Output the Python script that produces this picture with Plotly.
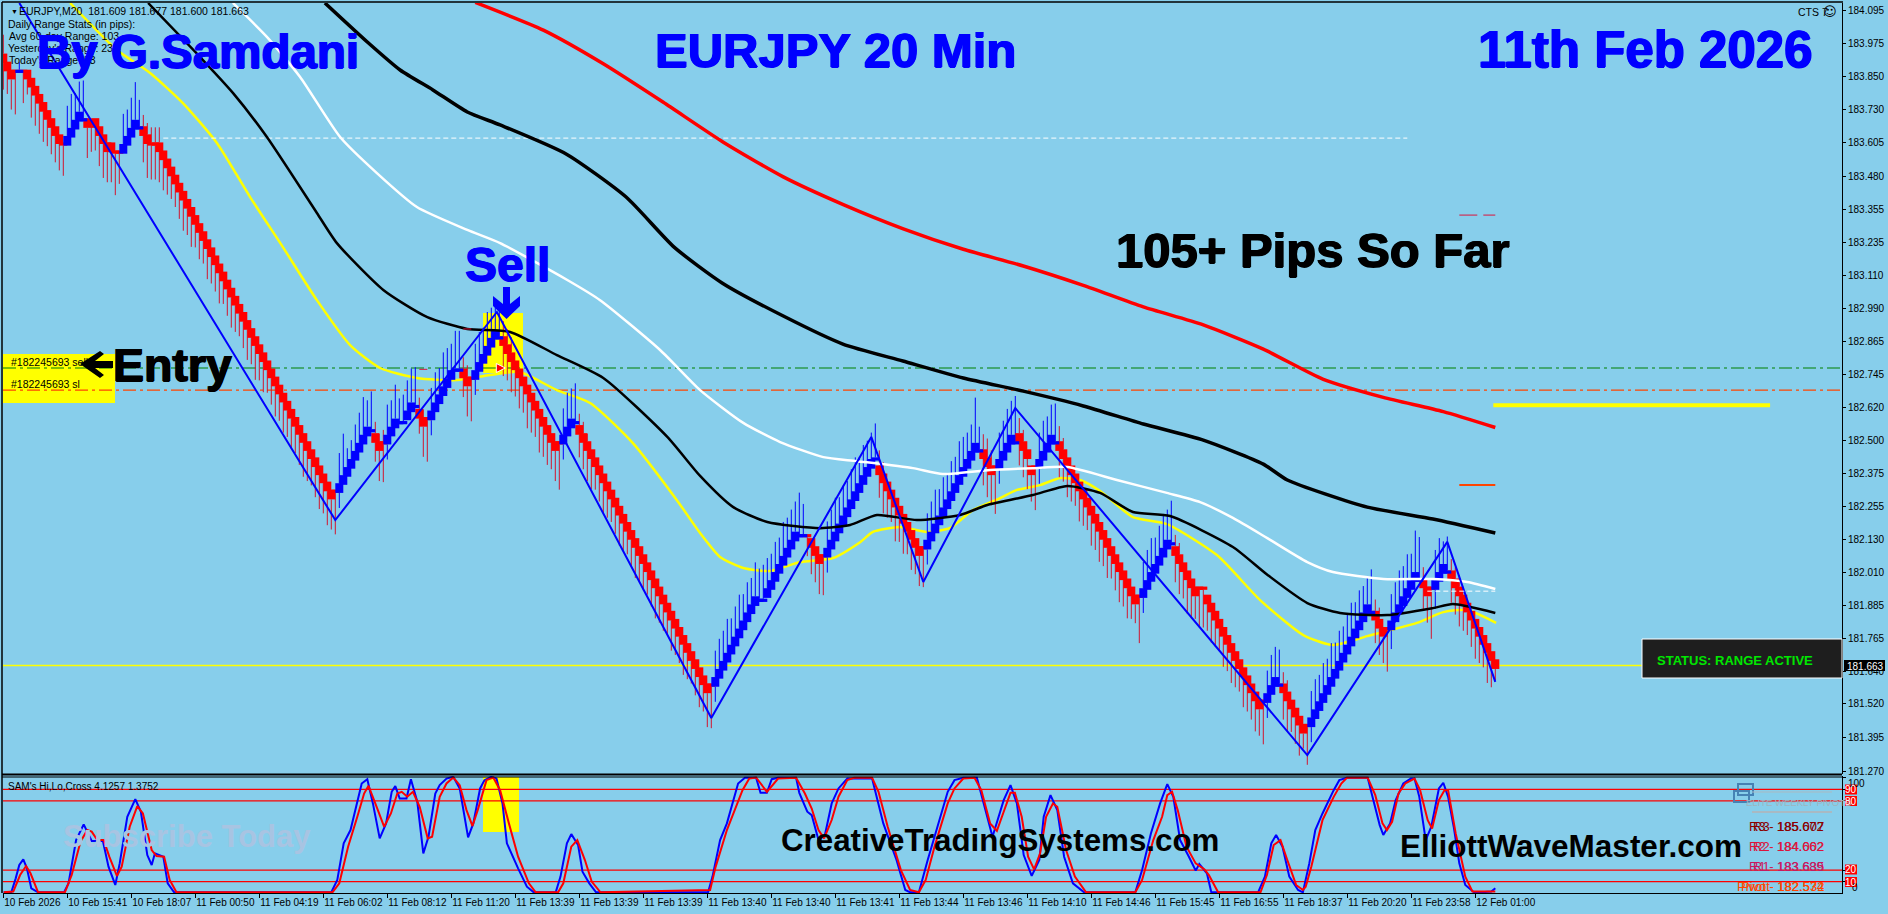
import plotly.graph_objects as go

# ---------- price axis ----------
price_ticks = [184.095,183.975,183.850,183.730,183.605,183.480,183.355,183.235,183.110,182.990,182.865,182.745,
               182.620,182.500,182.375,182.255,182.130,182.010,181.885,181.765,181.640,181.520,181.395,181.270]
time_ticks = [0,16,32,48,64,80,96,112,128,144,160,176,192,208,224,240,256,272,288,304,320,336,352,368]
time_labels = ["10 Feb 2026","10 Feb 15:41","10 Feb 18:07","11 Feb 00:50","11 Feb 04:19","11 Feb 06:02","11 Feb 08:12",
               "11 Feb 11:20","11 Feb 13:39","11 Feb 13:39","11 Feb 13:39","11 Feb 13:40","11 Feb 13:40","11 Feb 13:41",
               "11 Feb 13:44","11 Feb 13:46","11 Feb 14:10","11 Feb 14:46","11 Feb 15:45","11 Feb 16:55","11 Feb 18:37",
               "11 Feb 20:20","11 Feb 23:58","12 Feb 01:00"]

# ---------- bricks: close of every bar ----------
closes = [
 183.90,183.87,183.84, 183.87,183.87,183.87,
 183.84,183.81,183.78,183.75,183.72,183.69,183.66,183.63,183.60, 183.60,
 183.63,183.66,183.69,183.72, 183.69, 183.66,183.675,183.66,183.63,183.60,183.57,183.57,183.57,183.57,
 183.60,183.63,183.66,183.69, 183.66, 183.63,183.60,183.60,183.60,183.57,183.54,183.51,183.48,
 183.45,183.42,183.39,183.36,183.33,183.30,183.27,183.24,183.21,183.18,183.15,183.12,183.09,183.06,183.03,
 183.00,182.97,182.94,182.91,182.88,182.85,182.82,182.79,182.76,182.73,182.70,182.67,182.64,182.61,182.58,
 182.55,182.52,182.49,182.46,182.43,182.40,182.37,182.34,182.31,182.28,
 182.31,
 182.34,182.37,182.40,182.43,182.46,182.49,182.52,182.55,
 182.535, 182.49,182.46,182.49, 182.52,182.55,182.58, 182.565,182.565, 182.61,182.64, 182.625,
 182.58,182.55,182.58, 182.61,182.64,182.67,182.70,182.73,182.76, 182.76,182.76, 182.73,182.70,182.73,
 182.76,182.79,182.82,182.85,182.88,182.91, 182.88,
 182.85,182.82,182.79,182.76,182.73,182.70,182.67,182.64,182.61,182.58,182.55,182.52,182.49,182.46,
 182.49, 182.52,182.55,182.58, 182.565,
 182.52,182.49,182.46,182.43,182.40,182.37,182.34,182.31,182.28,182.25,182.22,182.19,182.16,182.13,
 182.10,182.07,182.04,182.01,181.98,181.95,181.92,181.89,181.86,181.83,181.80,181.77,181.74,181.71,
 181.68,181.65,181.62,181.59,181.56,
 181.59,
 181.62,181.65,181.68,181.71,181.74,181.77,181.80,181.83,181.86,181.89,181.92,
 181.905,181.905,
 181.95,181.98,182.01,182.04,182.07,182.10,182.13,182.16,
 182.145,182.145,182.145,
 182.10,182.07,182.04,182.07,
 182.10,182.13,182.16,182.19,182.22,182.25,182.28,182.31,182.34,182.37,182.40,182.43,
 182.43,
 182.37,182.34,182.31,182.28,182.25,182.22,182.19,182.16,182.13,182.10,182.07,
 182.10,
 182.13,182.16,182.19,182.22,182.25,182.28,182.31,182.34,182.37,182.40,182.43,182.46,182.49,
 182.46, 182.43,182.40,182.37,182.40,
 182.43,182.46,182.49,182.52, 182.49,
 182.49,182.46,182.43,182.37,182.40,
 182.43,182.46,182.49,182.52, 182.49,
 182.46,182.43,182.40,182.37,182.34,182.31,182.28,182.25,182.22,182.19,182.16,182.13,182.10,182.07,182.04,
 182.01,181.98,181.95,181.92,181.89,
 181.92,
 181.95,181.98,182.01,182.04,182.07,182.10,182.13, 182.115,
 182.07,182.04,182.01,181.98,181.95,181.92, 181.95,181.95,
 181.89,181.86,181.83,181.80,181.77,181.74,181.71,181.68,181.65,181.62,181.59,181.56,181.53,181.50,
 181.53, 181.56,181.59,181.62, 181.59,
 181.56,181.53,181.50,181.47,181.44,181.41, 181.44,
 181.47,181.50,181.53,181.56,181.59,181.62,181.65,181.68,181.71,181.74,181.77,181.80,181.83,181.86,181.89,
 181.86, 181.83,181.80,181.77,181.80,
 181.83,181.86,181.89,181.92,181.95,181.98,182.01, 181.98,
 181.95,181.92,181.95, 181.98,182.01,182.04,182.01,
 181.98,181.95,181.92,181.89,181.86,181.83,181.80,181.77,181.74,181.71,181.68,181.65,
]
# r / b: full red / blue brick, R / B: thin reversal bar
kind_runs = [("r",3),("R",1),("B",1),("R",1),("r",9),("R",1),("b",4),("B",1),("r",1),("R",1),("r",5),("R",2),("b",4),("B",1),
 ("r",2),("R",2),("r",44),("R",1),("b",8),("B",1),("r",2),("R",1),("b",3),("B",2),("b",2),("B",1),("r",2),("R",1),("b",6),
 ("B",2),("r",2),("R",1),("b",6),("B",1),("r",14),("R",1),("b",3),("B",1),("r",33),("R",1),("b",11),("B",2),("b",8),("B",2),
 ("R",1),("r",3),("R",1),("b",12),("B",1),("r",11),("R",1),("b",13),("B",1),("r",3),("R",1),("b",4),("B",1),("r",4),("R",1),
 ("b",4),("B",1),("r",20),("R",1),("b",7),("B",1),("r",6),("R",2),("r",14),("R",1),("b",3),("B",1),("r",6),("R",1),("b",15),
 ("B",1),("r",3),("R",1),("b",7),("B",1),("r",2),("R",1),("b",3),("B",1),("r",12)]
# wick length beyond the body, in pips
wick_pips = [
 7,6,8,11,2,8,4,8,8,8, 8,7,7,7,7,8,8,9,7,8, 10,8,7,6,8,9,8,8,11,8, 8,7,8,10,7,7,9,9,9,8,
 8,7,6,6,7,8,7,8,6,7, 6,8,7,7,8,6,7,8,7,6, 7,8,7,9,7,8,6,7,8,7, 8,7,8,7,8,9,8,7,8,9,
 8,9,8,11,8,11,5,5,7,8, 10,7,10,5,8,10,8,7,9,6, 7,8,9,10,4,8,11,6,8,7, 9,8,7,10,10,5,8,11,7,8,
 7,9,8,6,9,8,7,8,7,8, 7,9,8,7,9,8,8,7,8,12, 7,9,8,10,6,7,8,8,6,7, 8,7,6,7,8,7,6,7,8,7,
 7,6,7,8,7,7,6,8,7,7, 8,7,6,7,8,7,9,11,7,8, 8,9,7,8,9,7,8,7,9,8, 9,8,7,8,7,9,8,8,8,11,
 8,5,7,7,8,10,7,8,9,7, 8,7,8,9,7,8,7,7,9,6, 8,7,6,9,7,8,6,8,7,8, 10,7,8,9,7,8,7,8,7,9,
 8,7,7,12,6,7,8,8,12,7, 8,9,9,12,6,7,8,7,11,7, 8,7,8,10,7,6,8,7,6,8, 7,6,8,7,8,7,8,6,7,8,
 7,8,6,5,12,7,8,9,7,8, 9,8,11,7,8,7,9,8,6,10, 10,7,8,7,6,8,7,8,7,6, 8,7,7,8,7,11,6,8,8,9,
 7,8,6,7,8,4,10,7,8,7, 8,7,9,7,8,7,8,9,7,8, 7,7,11,6,7,7,11,7,8,9, 8,9,7,11,11,6,7,13,8,9,
 6,9,6,7,8,7,6,7,8,7, 6,8,7,3]
# short tails on the other side of a body, in pips, by bar
tail_pips = {0:5,35:3,36:3,37:4,38:4,39:4,84:4,93:3,94:2,95:3,96:4,104:3,105:2,107:4,115:3,116:3,118:4,125:4,126:4,127:4,
             140:4,144:3,145:3,146:2,178:4,206:4,219:4,220:3,231:4,245:4,246:5,247:4,249:4,254:4,255:3,259:4,264:4,265:3,
             285:4,293:3,294:3,316:4,320:3,321:3,327:4,343:3,344:3,347:5,355:3,358:5,362:3,363:3,364:3}
BRICK = 0.036
THIN = 0.012
PIP = 0.014   # price length of one wick unit

# ---------- moving averages (bar, price) ----------
yellow_bar = [16.7,28.4,36.7,44.9,53.4,61.7,69.9,78.4,86.7,94.2,103.4,113.4,121.7,129,138.4,146.7,157.4,168.4,174.2,179.2,185,191.7,
              199.2,207.4,214.2,217.4,224.2,230.9,236.7,242.4,249.2,253.4,259.2,264.2,269.2,274.2,282.4,290.9,303.4,314.2,325,332.4,
              341,353.4,360,366,373.2]
yellow_px = [184.124,183.949,183.864,183.752,183.604,183.403,183.217,183.020,182.853,182.768,182.731,182.723,182.742,182.753,182.686,
             182.638,182.489,182.277,182.155,182.066,182.025,182.014,182.047,182.062,182.121,182.159,182.177,182.159,182.174,182.240,
             182.285,182.315,182.333,182.359,182.352,182.311,182.214,182.188,182.073,181.906,181.776,181.739,181.772,181.821,181.861,
             181.869,181.821]
black_lo_bar = [36.2,49.2,57.4,65.9,78.4,83.4,95,106,116,126.7,138.4,150,166,174.2,182.4,191,204.2,211.7,218.4,228.4,239.2,246,257.4,266,
                274.2,282.4,291.7,307.4,316,326,334.2,346,357.4,362.4,373]
black_lo_px = [184.124,183.923,183.790,183.626,183.344,183.232,183.058,182.957,182.913,182.902,182.816,182.731,182.512,182.367,182.252,
               182.196,182.173,182.185,182.222,182.203,182.222,182.259,182.296,182.330,182.304,182.233,182.218,182.103,182.000,181.895,
               181.858,181.850,181.876,181.891,181.858]
white_bar = [57.4,65.9,74.2,84.2,93.4,103.4,116,124.2,141,149.2,164.2,174.2,185,194.2,205,213.4,227.4,234.9,246.7,257.4,266,278.4,290.9,
             299.2,307.4,316,326,332.4,345,357.4,366,373]
white_px = [184.124,183.998,183.849,183.626,183.492,183.366,183.281,183.232,183.095,183.020,182.835,182.686,182.564,182.493,182.437,182.422,
            182.396,182.374,182.389,182.396,182.400,182.352,182.304,182.270,182.211,182.136,182.047,182.010,181.984,181.984,181.973,181.947]
black_hi_bar = [80.4,91,99.2,107.4,116,124.2,140.7,155.7,167.7,179.7,195,209.9,224.9,240,255,270,285,300,315,321,341,357.4,373]
black_hi_px = [184.124,183.979,183.875,183.801,183.719,183.671,183.563,183.403,183.217,183.084,182.961,182.857,182.794,182.731,182.682,
               182.627,182.560,182.500,182.411,182.352,182.251,182.207,182.155]
red_ma_bar = [118,135,150,165,180,195,210,225,240,255,270,285,300,315,330,345,360,373]
red_ma_px = [184.126,184.023,183.898,183.755,183.607,183.478,183.375,183.285,183.209,183.147,183.075,182.995,182.928,182.838,182.726,
             182.659,182.606,182.547]
zigzag_bar = [4,83,123.4,177,217,230,253,326,361,373]
zigzag_px = [184.124,182.203,182.976,181.468,182.512,181.973,182.619,181.330,182.122,181.602]

# ---------- oscillator ----------
osc_blue_bar = [0.1,2,3.1,4,5,5.9,7,8.7,15.2,16.3,18.2,20.1,22.1,24.9,26.3,28,29.1,31,33,34.4,36,37.1,37.9,40,41.1,42.7,82,83.5,85.1,86.8,
 89.6,91,92.4,94.1,95.7,97.1,98,99.1,100.8,101.9,103.5,105,106.3,108,109.1,110.8,112.5,114.1,116.2,117.5,119.2,120.3,122,123.3,124.8,
 125.9,128.7,130.9,132.6,138.1,139.3,140.9,142,143.7,144.8,146.5,148.2,176.2,177.3,179.2,180.9,183.7,185.4,188.2,189.3,190.9,192.1,
 193.7,198.2,199,201,202.1,203.8,205.4,207.1,208.8,211,217.2,220,223.3,225.5,226.7,228.9,231.1,233.3,236.1,237.8,240,243.4,245.1,247.3,
 250.1,251.8,253.4,255.1,257.1,259,260.1,261.8,263.5,265.2,267.4,270.2,283,284.7,286.9,289.2,291,292.5,294.2,296.4,298.1,299,300.9,302,
 313.7,315.4,317,318.2,319.8,321.5,323.7,324.9,326.5,328,329.8,332.6,334,335.9,341.1,342.5,344.1,345,346.7,348.1,350,351.9,352.8,354,
 355.6,357,358.9,360,361.2,362.6,364,365.5,367.8,372,373]
osc_blue_val = [0.7,0.7,12.8,24.4,29.3,21.5,4.2,0.7,0.7,8.5,46,59.6,45.2,45.2,23,7.1,25.8,66.2,81.5,70.6,33,24.4,34.5,31.6,8.5,0.7,0.7,11.4,
 43.2,54.7,95.1,98.8,77.8,47.5,60.5,87.9,92.8,82.1,82.1,98.8,79.2,34.5,48.9,86.4,93.7,99.4,100.9,90.8,48.3,60.5,90.8,98,100.9,99.4,77.8,
 43.2,21.5,5.6,0.7,0.7,14.3,43.2,51.2,41.7,18.6,8.5,0.7,0.7,14.3,46,60.5,95.1,100,100,87,87,98.8,100,100,87,70.6,67.7,46,50.4,77.8,90.8,
 99.4,99.4,60.5,28.7,2.7,0.7,0.7,28.7,54.7,87.9,98,100,100,77.8,48.9,80.7,93.7,77.8,33,14.9,28.7,66.2,85,72,31.6,8.5,0.7,0.7,20,51.8,77.8,
 94.5,83.6,46,31.6,19.5,25.3,17.2,0.7,0.7,14.3,43.2,50.4,40.3,14.3,2.7,0.7,25.8,54.7,69.1,89.3,98,100,100,80.7,59,50.4,60.5,80.7,95.1,99.4,
 99.4,83.5,46,57.6,90.8,95.7,83.5,57.6,25.8,7.1,0.4,1.3,4.2]
osc_red_bar = [0.1,2.5,4.2,5.7,6.8,8.7,15.4,17.1,19.3,21,22.1,23.5,25.1,26.5,28.4,29.6,31.6,33.5,34.9,37.1,38.3,40.2,41.6,43.3,82.3,84,86.2,
 88.5,90.2,91.3,93,95.2,96.9,98.5,99.6,101,102.4,104.1,106.1,107.2,109.1,110.8,112.5,114.1,115.8,117.3,118.6,120.8,122.5,124.2,126.4,128.7,
 131.4,133.1,138.7,140,142,143.5,145.4,147.1,149.3,176.7,178.1,180.9,184.8,186.5,188.2,190.9,193.7,198.2,200.4,202.1,203.8,205.2,207.1,
 208.8,211,212.7,217.2,218.8,221.1,224.4,226.7,228.9,230.6,232.8,236.1,237.8,240,242.8,244.5,246.7,248.4,250.1,251.8,252.9,254.6,256.2,
 257.7,259.2,260.7,262.4,263.5,265.7,267.9,270.7,283,284.7,287.5,289.7,291,292.2,293.6,295.8,298.1,300.3,301.4,303.7,314.3,315.9,317.6,
 319.3,321,323.2,324.9,325.6,327,329.8,332.6,334.5,335.9,341.1,343,344.8,345.9,347.2,348.8,350.5,352.8,354.2,356.1,357.2,358.9,360.3,361.2,
 363.1,365.5,367.3,373]
osc_red_val = [0.7,1.3,15.7,23.5,17.2,0.7,0.7,15.7,44.6,54.7,53.3,46,46,31.6,14.9,23,57.6,75.5,69.1,37.4,32.2,31.6,11.4,0.7,0.7,8.5,40.3,66.2,
 86.4,93.1,77.8,57.6,69.1,86.4,87.9,83.6,87.9,74.9,47.5,48.9,83.6,95.1,100.3,93.7,72,58.2,72,98,100.3,89.3,60.5,31.6,8.5,0.7,0.7,8.5,40.3,
 46,28.7,10,0.7,2.7,23,54.7,89.3,99.4,100.3,87.9,99.4,100,86.4,73.4,54.7,47.5,63.4,83.6,98,100,100,87.9,57.6,20,2.7,0.7,11.4,40.3,77.8,90.8,
 99.4,100,89.3,60.5,54.1,70.6,87,87,66.2,31.6,20.6,34.5,66.2,77.8,74.9,37.4,14.3,0.7,0.7,11.4,46,66.2,85,87.9,72,40.3,25.8,20.6,15.7,0.7,0.7,
 15.7,41.7,46,28.7,7.1,2.7,5.6,22.9,63.3,83.5,95.1,100,100,85,60.5,54.7,61.9,86.4,95.1,99.4,89.3,63.3,56.1,80.7,89.3,89.3,51.8,14.3,1.3,1.3]
osc_levels = [90,80,20,10]

# ---------- horizontal levels ----------
level_white = 183.622
level_green = 182.768
level_orange = 182.686
level_bid = 181.663
level_thick = 182.630

W, H = 1888, 914
LEFT, RIGHT, TOP, BOTTOM = 3, 1842, 3, 893
def PX(x): return (x - LEFT) / (RIGHT - LEFT)
def PY(y): return 1 - (y - TOP) / (BOTTOM - TOP)

kinds = [k for k, n in kind_runs for _ in range(n)]
wr_x, wr_y, wb_x, wb_y = [], [], [], []
br_x, br_y, bb_x, bb_y = [], [], [], []
for i, (c, k, w) in enumerate(zip(closes, kinds, wick_pips)):
    t = tail_pips.get(i, 0) * PIP
    w = w * PIP
    if k in "rR":
        h = BRICK if k == "r" else THIN
        base = c if k == "r" else c - THIN / 2
        br_x += [i, i, None]; br_y += [base, base + h, None]
        wr_x += [i, i, None]; wr_y += [base, base - w, None]
        if t:
            wr_x += [i, i, None]; wr_y += [base + h, base + h + t, None]
    else:
        h = BRICK if k == "b" else THIN
        base = c - BRICK if k == "b" else c - THIN / 2
        bb_x += [i, i, None]; bb_y += [base, base + h, None]
        wb_x += [i, i, None]; wb_y += [base + h, base + h + w, None]
        if t:
            wb_x += [i, i, None]; wb_y += [base, base - t, None]

XR = [(LEFT - 3.3) / 4, (RIGHT - 3.3) / 4]
YR = [184.135 - 774 / 269.2, 184.135 - 3 / 269.2]
fig = go.Figure()
def line(x, y, color, width, axis="y", dash="solid", smooth=False):
    ln = dict(color=color, width=width, dash=dash, simplify=False)
    if smooth:
        ln.update(shape="spline", smoothing=0.6)
    fig.add_trace(go.Scatter(x=x, y=y, mode="lines", yaxis=axis, xaxis="x", hoverinfo="skip", showlegend=False,
                             connectgaps=False, line=ln))

# under the candles
line(XR, [level_bid, level_bid], "#FFFF00", 1.4)
line(XR, [level_green, level_green], "#008000", 1.2, "y", "13px,4px,3px,4px")
line(XR, [level_orange, level_orange], "#FF4500", 1.2, "y", "13px,4px,3px,4px")
line(yellow_bar, yellow_px, "#FFFF00", 2.5, smooth=True)

# candles: wicks, then bodies
line(wr_x, wr_y, "#D2142D", 1)
line(wb_x, wb_y, "#0000FF", 1)
line(br_x, br_y, "#FF0000", 8)
line(bb_x, bb_y, "#0000FF", 8)

line([40, 351], [level_white, level_white], "#FFFFFF", 1, "y", "5px,3px")
line(white_bar, white_px, "#FFFFFF", 2.5, smooth=True)
line(black_lo_bar, black_lo_px, "#000000", 2.5, smooth=True)
line(black_hi_bar, black_hi_px, "#000000", 3.5, smooth=True)
line(red_ma_bar, red_ma_px, "#FF0000", 3.5, smooth=True)
line(zigzag_bar, zigzag_px, "#0000FF", 2)
line([372.5, 441.7], [level_thick, level_thick], "#FFFF00", 4)
line([364, 368.5], [183.336, 183.336], "#DC143C", 1)
line([370, 373], [183.336, 183.336], "#DC143C", 1)
line([364, 373], [182.333, 182.333], "#FF4500", 2)
line([356, 373], [181.939, 181.939], "#FFFFFF", 1, "y", "5px,3px")
line([104, 106], [182.763, 182.763], "#DC143C", 1)
line([115, 117], [182.913, 182.913], "#DC143C", 1)
fig.add_trace(go.Scatter(x=[125.5], y=[level_green], mode="markers", hoverinfo="skip", showlegend=False,
                         marker=dict(symbol="arrow-right", size=9, color="#FF0000", line=dict(color="#FFFFFF", width=1))))

# oscillator
for lv in osc_levels:
    line(XR, [lv, lv], "#FF0000", 1.2, "y2")
line(osc_blue_bar, osc_blue_val, "#0000FF", 2, "y2")
line(osc_red_bar, osc_red_val, "#FF0000", 2, "y2")

shapes = []
def rect(x0, y0, x1, y1, fill=None, stroke=None, sw=0, layer="below"):
    shapes.append(dict(type="rect", xref="paper", yref="paper", x0=PX(x0), x1=PX(x1), y0=PY(y0), y1=PY(y1), layer=layer,
                       fillcolor=fill or "rgba(0,0,0,0)", line=dict(color=stroke or "rgba(0,0,0,0)", width=sw)))
def seg(x0, y0, x1, y1, color, w, layer="above"):
    shapes.append(dict(type="line", xref="paper", yref="paper", x0=PX(x0), x1=PX(x1), y0=PY(y0), y1=PY(y1), layer=layer,
                       line=dict(color=color, width=w)))
def poly(pts, color):
    shapes.append(dict(type="path", xref="paper", yref="paper", layer="above", fillcolor=color, line=dict(width=0),
                       path="M" + " L".join(f"{PX(a):.5f},{PY(b):.5f}" for a, b in pts) + " Z"))

rect(3, 354, 115, 403, "#FFFF00")
rect(483, 313, 523, 373, "#FFFF00")
rect(483, 777, 519, 832, "#FFFF00")
seg(2, 2, RIGHT + 1, 2, "#000000", 1.5)
seg(2, 2, 2, BOTTOM, "#000000", 1.5)
seg(2, 774.5, RIGHT, 774.5, "#000000", 2)
seg(2, 777, RIGHT, 777, "#000000", 1)
rect(1642, 639, 1842, 678, "#1E1E1E", "#FFFFFF", 1, "above")
rect(1844, 660, 1885, 671, "#000000", layer="above")
rect(1738, 784, 1753, 795, None, "#4682B4", 2, "above")
rect(1734, 791, 1749, 802, None, "#4682B4", 2, "above")
seg(1752, 792, 1832, 792, "#A9B9C2", 1)
seg(1752, 812, 1832, 812, "#A9B9C2", 2)
poly([(80, 364), (100, 351), (104, 354), (95, 361), (113, 361), (113, 368), (95, 368), (104, 375), (100, 378)], "#000000")
poly([(503, 287), (510, 287), (510, 304), (520, 296), (520, 306), (506.5, 319), (493, 306), (493, 296), (503, 304)], "#0000FF")

ann = []
def txt(x, y, s, size, color="#000000", bold=False, anchor="left", family="Liberation Sans", shadow=None):
    ann.append(dict(xref="paper", yref="paper", x=PX(x), y=PY(y), text=f"<b>{s}</b>" if bold else s, showarrow=False, xanchor=anchor,
                    yanchor="middle", font=dict(size=size, color=color, family=family, **({"shadow": shadow} if shadow else {})),
                    borderpad=0))
def heavy(c):
    return f"0.8px 0 0 {c}, -0.8px 0 0 {c}, 0 0.6px 0 {c}"

txt(10, 11, "▼", 7)
txt(18, 11, "EURJPY,M20  181.609 181.677 181.600 181.663", 10.5)
txt(7, 24, "Daily Range Stats (in pips):", 10.5)
txt(8, 36, "Avg 60-day Range: 103", 10.5)
txt(7, 48, "Yesterday's Range: 234", 10.5)
txt(8, 60, "Today's Range: 53", 10.5)
txt(36, 51, "By G.Samdani", 47.5, "#0000FF", True, shadow=heavy("#0000FF"))
txt(654, 50, "EURJPY 20 Min", 49, "#0000FF", True, shadow=heavy("#0000FF"))
txt(1477, 50, "11th Feb 2026", 51, "#0000FF", True, shadow=heavy("#0000FF"))
txt(1115, 250, "105+ Pips So Far", 49, "#000000", True, shadow=heavy("#000000"))
txt(464, 265, "Sell", 48, "#0000FF", True, shadow=heavy("#0000FF"))
txt(112, 365, "Entry", 46.5, "#000000", True, shadow=heavy("#000000"))
txt(10, 362, "#182245693 sell", 10.5)
txt(10, 384, "#182245693 sl", 10.5)
txt(1797, 12, "CTS 7", 10.5)
txt(1822, 12, "☺", 13, family="DejaVu Sans")
txt(7, 786, "SAM's Hi,Lo,Cross 4.1257 1.3752", 10)
txt(62, 836, "Subscribe Today", 31, "#A8C4E2", True)
txt(780, 840, "CreativeTradingSystems.com", 31.3, "#000000", True)
txt(1399, 846, "ElliottWaveMaster.com", 31.5, "#000000", True)
txt(1656, 660, "STATUS: RANGE ACTIVE", 13, "#00E600", True)
txt(1846, 666, "181.663", 10, "#FFFFFF")
txt(1745, 802, "ELITE WEEKLY PIVOTS", 9.5, "#9DB4C0")
for yy, pair, col in [(826, ("R3  185.672", "R3 - 185.007"), "#8B0000"),
                      (846, ("R2  184.662", "R2 - 184.002"), "#DC143C"),
                      (866, ("R1  183.689", "R1 - 183.635"), "#C8195F"),
                      (886, ("Pivot  182.574", "Pivot - 182.532"), "#FF4500")]:
    for s in pair:
        txt(1825, yy, s, 13, col, anchor="right")
txt(1847, 783, "100", 10)
txt(1851, 887, "0", 10)
for yy, s in [(789.5, "90"), (801, "80"), (869.5, "20"), (882, "10")]:
    rect(1845, yy - 5, 1857, yy + 5, "#FF0000", layer="above")
    txt(1851, yy, s, 10, "#FFFFFF", anchor="center")

AX = dict(showgrid=False, zeroline=False)
fig.update_layout(
    width=W, height=H, autosize=False, margin=dict(l=LEFT, r=W - RIGHT, t=TOP, b=H - BOTTOM, pad=0),
    paper_bgcolor="#87CEEB", plot_bgcolor="#87CEEB", showlegend=False,
    font=dict(family="Liberation Sans", size=10, color="#000000"),
    xaxis=dict(**AX, range=XR, anchor="y2", domain=[0, 1], tickmode="array", tickvals=time_ticks, ticktext=time_labels,
               ticks="outside", ticklen=4, tickcolor="#000000", showline=True, linecolor="#000000", linewidth=1,
               ticklabelposition="outside right", tickfont=dict(size=10), tickangle=0, automargin=False),
    yaxis=dict(**AX, range=YR, domain=[(BOTTOM - 774) / (BOTTOM - TOP), 1], side="right", anchor="x", tickmode="array",
               tickvals=price_ticks, ticktext=[f"{v:.3f}" for v in price_ticks], ticks="outside", ticklen=3, tickcolor="#000000",
               showline=True, linecolor="#000000", linewidth=1, tickfont=dict(size=10), automargin=False),
    yaxis2=dict(**AX, range=[0.1, 101.6], domain=[0, (BOTTOM - 776) / (BOTTOM - TOP)], side="right", anchor="x", tickmode="array",
                tickvals=[0, 10, 20, 80, 90, 100], showticklabels=False, ticks="outside", ticklen=3, tickcolor="#000000",
                showline=True, linecolor="#000000", linewidth=1, automargin=False),
    shapes=shapes, annotations=ann,
)
fig.write_html("out.html", config=dict(displayModeBar=False),
               post_script="document.body.style.margin='0';document.body.style.background='#87CEEB';")
